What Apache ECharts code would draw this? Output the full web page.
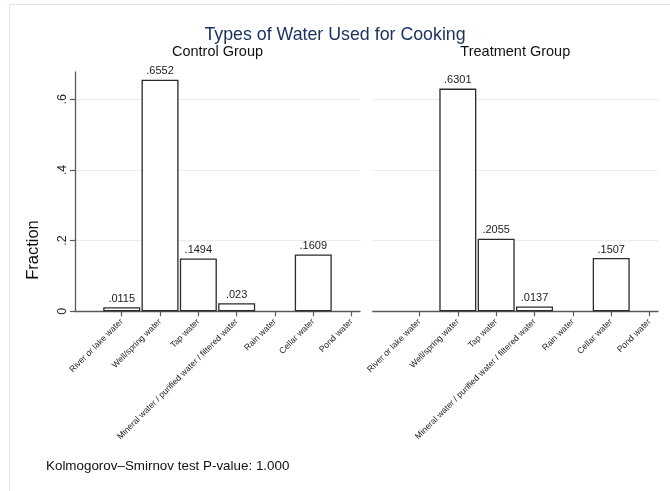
<!DOCTYPE html>
<html>
<head>
<meta charset="utf-8">
<title>Types of Water Used for Cooking</title>
<script src="https://cdn.jsdelivr.net/npm/echarts@6/dist/echarts.min.js"></script>
<style>
  html, body { margin: 0; padding: 0; background: #ffffff; }
  #chart { width: 670px; height: 491px; }
</style>
</head>
<body>
<div id="chart"></div>
<script>
// Water source categories (shared by both panels)
const categories = [
  'River or lake water',
  'Well/spring water',
  'Tap water',
  'Mineral water / purified water / filtered water',
  'Rain water',
  'Cellar water',
  'Pond water'
];

// Fraction of households using each source
const controlValues   = [0.0115, 0.6552, 0.1494, 0.023, 0, 0.1609, 0];
const treatmentValues = [0, 0.6301, 0.2055, 0.0137, 0, 0.1507, 0];

const panelTitles = ['Control Group', 'Treatment Group'];
const yTicks = [0, 0.2, 0.4, 0.6];

const FONT = "'Liberation Sans', Arial, Helvetica, sans-serif";
const AXIS_COLOR = '#5a5a5a';
const GRID_COLOR = '#e6eeee';

// Stata-style number format: drop the leading zero
function fmt(v) {
  return String(v).replace(/^0(?=\.)/, '').replace(/^-0(?=\.)/, '-.');
}

const catIdx = categories.map((_, i) => i);

function barData(values) {
  // zero-fraction sources are not drawn
  return values.map((v, i) => [i, v]).filter(d => d[1] > 0);
}

const grids = [
  { left: 75, top: 72, width: 285, height: 239.3 },
  { left: 372.7, top: 72, width: 285.3, height: 239.3 }
];

function makeXAxis(g) {
  return {
    type: 'value', gridIndex: g, min: -1.22, max: 6.22,
    axisLine: { show: true, onZero: false, lineStyle: { color: AXIS_COLOR, width: 1.3 } },
    axisTick: { show: true, customValues: catIdx, length: 5, lineStyle: { color: AXIS_COLOR, width: 1.2 } },
    axisLabel: {
      show: true, customValues: catIdx, rotate: 45, margin: 9,
      fontFamily: FONT, fontSize: 8.6, color: '#222',
      formatter: v => categories[Math.round(v)] || ''
    },
    splitLine: { show: false }
  };
}

function makeYAxis(g, visible) {
  return {
    type: 'value', gridIndex: g, min: 0, max: 0.677,
    axisLine: { show: visible, onZero: false, lineStyle: { color: AXIS_COLOR, width: 1.3 } },
    axisTick: { show: visible, customValues: yTicks, length: 5, lineStyle: { color: AXIS_COLOR, width: 1.2 } },
    axisLabel: {
      show: visible, customValues: yTicks, rotate: 90, margin: 6,
      fontFamily: FONT, fontSize: 12.5, color: '#222',
      formatter: v => fmt(v)
    },
    splitLine: { show: true, lineStyle: { color: GRID_COLOR, width: 1 } }
  };
}

function makeSeries(g, values) {
  return {
    type: 'bar', xAxisIndex: g, yAxisIndex: g,
    barWidth: 37,
    data: barData(values),
    itemStyle: { color: '#ffffff', borderColor: '#2b2b2b', borderWidth: 1.3 },
    label: {
      show: true, position: 'top', distance: 3,
      fontFamily: FONT, fontSize: 11, color: '#222',
      formatter: p => fmt(p.value[1])
    },
    silent: true, animation: false
  };
}

const chart = echarts.init(document.getElementById('chart'), null, { renderer: 'canvas' });

chart.setOption({
  backgroundColor: '#ffffff',
  animation: false,
  grid: grids,
  xAxis: [makeXAxis(0), makeXAxis(1)],
  yAxis: [makeYAxis(0, true), makeYAxis(1, false)],
  series: [makeSeries(0, controlValues), makeSeries(1, treatmentValues)],
  graphic: [
    {
      type: 'rect', silent: true, z: -1,
      shape: { x: 9.5, y: 4.5, width: 700, height: 600 },
      style: { fill: null, stroke: '#dbe6e8', lineWidth: 1 }
    },
    {
      type: 'text', x: 335, y: 35,
      style: { text: 'Types of Water Used for Cooking', fontFamily: FONT, fontSize: 17.8,
               fill: '#1c3461', align: 'center', verticalAlign: 'middle' }
    },
    {
      type: 'text', x: 217.5, y: 52,
      style: { text: panelTitles[0], fontFamily: FONT, fontSize: 14.5,
               fill: '#111', align: 'center', verticalAlign: 'middle' }
    },
    {
      type: 'text', x: 515.3, y: 52,
      style: { text: panelTitles[1], fontFamily: FONT, fontSize: 14.5,
               fill: '#111', align: 'center', verticalAlign: 'middle' }
    },
    {
      type: 'text', x: 33, y: 250, rotation: Math.PI / 2,
      style: { text: 'Fraction', fontFamily: FONT, fontSize: 16.5,
               fill: '#111', align: 'center', verticalAlign: 'middle' }
    },
    {
      type: 'text', x: 46, y: 466,
      style: { text: 'Kolmogorov–Smirnov test P-value: 1.000', fontFamily: FONT, fontSize: 13.4,
               fill: '#111', align: 'left', verticalAlign: 'middle' }
    }
  ]
});
</script>
</body>
</html>
